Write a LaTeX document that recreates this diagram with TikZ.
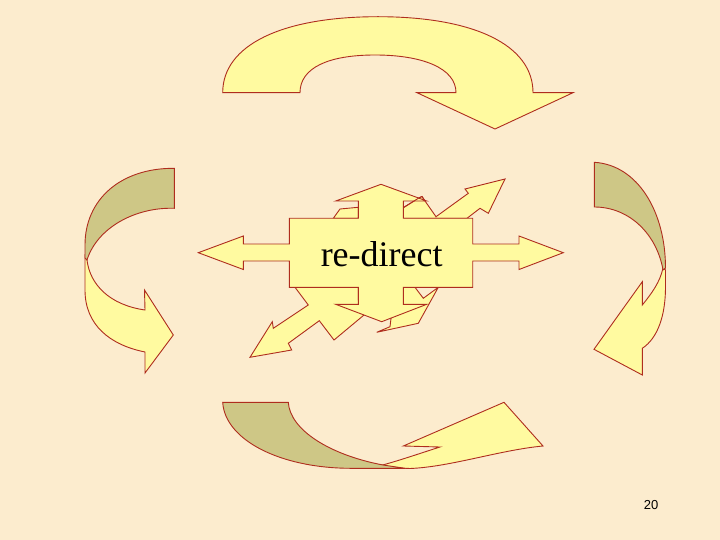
\documentclass[tikz,border=0pt]{standalone}
\usepackage{fontspec}
\setmainfont{Liberation Serif}
\newfontfamily\numfont{Liberation Sans}
\definecolor{bgc}{RGB}{252,236,206}
\definecolor{yel}{RGB}{255,250,160}
\definecolor{oli}{RGB}{206,199,134}
\definecolor{edgec}{RGB}{175,45,30}
\begin{document}
\begin{tikzpicture}[x=1pt,y=-1pt,
  shp/.style={draw=edgec,line width=0.9pt,line join=miter,fill=yel},
  backface/.style={shp,fill=oli}]
\fill[bgc] (0,0) rectangle (720,540);
\useasboundingbox (0,0) rectangle (720,540);

% top curved arrow
\path[shp] (222.7,92.7) .. controls (222.7,45) and (282,16.7) .. (378,16.7)
  .. controls (474,16.7) and (533,45) .. (533,92.7)
  -- (573,92.7) -- (495,129) -- (417,92.7) -- (456,92.7)
  .. controls (456,68) and (422,55) .. (375,55)
  .. controls (328,55) and (300,68) .. (300,92.7) -- cycle;

% left curved arrow
\path[shp] (85,256) -- (85,290) .. controls (85,325) and (110,345) .. (145,352)
  -- (145,373) -- (173.3,335) -- (144.5,290) -- (145,310)
  .. controls (110,305) and (90,285) .. (87,260) -- cycle;
\path[backface] (174.3,168.3) .. controls (120,168) and (85,200) .. (85,245) -- (85,258)
  -- (87,260) .. controls (97,228) and (135,207) .. (174.3,208.3) -- cycle;

% right curved arrow
\path[shp] (663,268) -- (665.5,270) -- (665.5,287) .. controls (665.5,315) and (658,338) .. (642.3,348.3)
  -- (642.3,375) -- (594,349.3) -- (642.3,281.7) -- (642.3,305)
  .. controls (652,293) and (660,282) .. (663,268) -- cycle;
\path[backface] (594.3,162.3) .. controls (638,165) and (665.5,212) .. (665.5,268) -- (663,270)
  .. controls (657,235) and (630,207) .. (594.3,207) -- cycle;

% bottom curved arrow
\path[shp] (375,467) -- (410,468.5) .. controls (450,467) and (500,450) .. (543,446)
  -- (504,402.3) -- (403.3,446) -- (440,447)
  .. controls (415,455) and (395,462) .. (375,467) -- cycle;
\path[backface] (222.7,402.3) -- (288.3,402.3) .. controls (290,430) and (330,455) .. (383,465)
  -- (405,468.3) -- (350,468.3) .. controls (280,468) and (225,440) .. (222.7,402.3) -- cycle;

% arrows behind the centre
\path[shp] (403.3,218.3) -- (403.3,207.7) -- (419.3,197.7) -- (422,196.5) -- (425,201)
  -- (436,216.7) -- (468.3,193.3) -- (465,189) -- (505,179) -- (488.3,213.3)
  -- (480,208.3) -- (467,218.3) -- cycle;
\path[shp] (333.3,218.3) -- (340,209) -- (358.3,207.3) -- (358.3,218.3) -- cycle;
\path[shp] (295,287.3) -- (308.3,305) -- (273.3,328.3) -- (272.3,321.7) -- (250,357.3)
  -- (291.7,350) -- (288.3,343.3) -- (319.3,320.7) -- (334,340) -- (364,315)
  -- (358.3,300) -- (358.3,287.3) -- cycle;
\path[shp] (391,318.3) -- (390,326.7) -- (376.7,332.3) -- (418.3,323.3) -- (438.3,287.3)
  -- (423.3,298.3) -- (415,287.3) -- (403.3,287.3) -- (403.3,304.3) -- cycle;

% centre cross
\path[shp] (289.3,218.3) -- (358.3,218.3) -- (358.3,201) -- (335.7,201) -- (381,184.3)
  -- (426.7,201) -- (403.3,201) -- (403.3,218.3) -- (472.7,218.3) -- (472.7,244)
  -- (519,244) -- (519,236) -- (563.3,252.7) -- (519,269.5) -- (519,261)
  -- (472.7,261) -- (472.7,287.3) -- (403.3,287.3) -- (403.3,304.3) -- (426.7,304.3)
  -- (381.7,321.7) -- (335.7,304.3) -- (358.3,304.3) -- (358.3,287.3) -- (289.3,287.3)
  -- (289.3,261) -- (243.3,261) -- (243.3,269.5) -- (198.3,252.7) -- (243.3,236)
  -- (243.3,244) -- (289.3,244) -- cycle;
\draw[edgec,line width=0.9pt] (403.3,207.7) -- (419.3,197.7) -- (422,196.5) -- (425,201);

\node[font=\fontsize{36}{40}\selectfont,anchor=base,inner sep=0pt] (label) at (381.7,266) {re-direct};
\node[font=\numfont\fontsize{13}{15}\selectfont,anchor=base,inner sep=0pt] (pagenum) at (651,509.3) {20};
\end{tikzpicture}
\end{document}
